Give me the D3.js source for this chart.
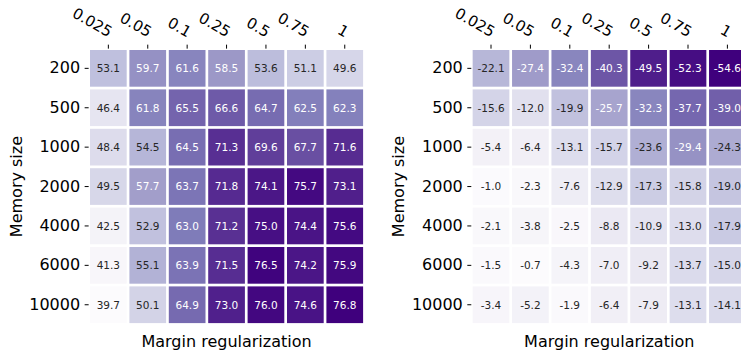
<!DOCTYPE html>
<html>
<head>
<meta charset="utf-8">
<script src="https://cdn.jsdelivr.net/npm/d3@7"></script>
<style>
  html, body { margin: 0; padding: 0; background: #fff; }
  svg { display: block; font-family: "DejaVu Sans", sans-serif; }
</style>
</head>
<body>
<svg id="chart" width="741" height="356"></svg>
<script>
// Column categories (margin regularization strength) and row categories (memory size)
const margins = ["0.025", "0.05", "0.1", "0.25", "0.5", "0.75", "1"];
const memorySizes = ["200", "500", "1000", "2000", "4000", "6000", "10000"];

// Left panel values, one row per memory size
const accuracy = [
  [53.1, 59.7, 61.6, 58.5, 53.6, 51.1, 49.6],
  [46.4, 61.8, 65.5, 66.6, 64.7, 62.5, 62.3],
  [48.4, 54.5, 64.5, 71.3, 69.6, 67.7, 71.6],
  [49.5, 57.7, 63.7, 71.8, 74.1, 75.7, 73.1],
  [42.5, 52.9, 63.0, 71.2, 75.0, 74.4, 75.6],
  [41.3, 55.1, 63.9, 71.5, 76.5, 74.2, 75.9],
  [39.7, 50.1, 64.9, 73.0, 76.0, 74.6, 76.8]
];

// Right panel values, one row per memory size
const change = [
  [-22.1, -27.4, -32.4, -40.3, -49.5, -52.3, -54.6],
  [-15.6, -12.0, -19.9, -25.7, -32.3, -37.7, -39.0],
  [-5.4, -6.4, -13.1, -15.7, -23.6, -29.4, -24.3],
  [-1.0, -2.3, -7.6, -12.9, -17.3, -15.8, -19.0],
  [-2.1, -3.8, -2.5, -8.8, -10.9, -13.0, -17.9],
  [-1.5, -0.7, -4.3, -7.0, -9.2, -13.7, -15.0],
  [-3.4, -5.2, -1.9, -6.4, -7.9, -13.1, -14.1]
];

const xLabel = "Margin regularization";
const yLabel = "Memory size";

// ColorBrewer "Purples" stops, linearly interpolated
const purples = ["#fcfbfd", "#efedf5", "#dadaeb", "#bcbddc", "#9e9ac8",
                 "#807dba", "#6a51a3", "#54278f", "#3f007d"];
const purpleRamp = d3.scaleLinear()
  .domain(d3.range(purples.length).map(i => i / (purples.length - 1)))
  .range(purples)
  .interpolate(d3.interpolateRgb)
  .clamp(true);

function luminance(color) {
  const c = d3.rgb(color);
  const lin = v => {
    v /= 255;
    return v <= 0.03928 ? v / 12.92 : Math.pow((v + 0.055) / 1.055, 2.4);
  };
  return 0.2126 * lin(c.r) + 0.7152 * lin(c.g) + 0.0722 * lin(c.b);
}

const svg = d3.select("#chart");
const cellGap = 2.7;
const side = 275.8;
const panelTop = 48.65;

function drawPanel(values, left, reversed) {
  const flat = values.flat();
  const lo = d3.min(flat), hi = d3.max(flat);
  const norm = d3.scaleLinear().domain(reversed ? [hi, lo] : [lo, hi]).range([0, 1]);

  const x = d3.scaleBand().domain(margins).range([left, left + side]);
  const y = d3.scaleBand().domain(memorySizes).range([panelTop, panelTop + side]);

  const g = svg.append("g");

  const cells = g.selectAll("g.cell")
    .data(values.flatMap((row, r) => row.map((v, c) => ({ v, r, c }))))
    .join("g")
    .attr("class", "cell");

  cells.append("rect")
    .attr("x", d => x(margins[d.c]) + cellGap / 2)
    .attr("y", d => y(memorySizes[d.r]) + cellGap / 2)
    .attr("width", x.bandwidth() - cellGap)
    .attr("height", y.bandwidth() - cellGap)
    .attr("fill", d => purpleRamp(norm(d.v)));

  cells.append("text")
    .attr("x", d => x(margins[d.c]) + x.bandwidth() / 2)
    .attr("y", d => y(memorySizes[d.r]) + y.bandwidth() / 2)
    .attr("dy", "0.36em")
    .attr("text-anchor", "middle")
    .attr("font-size", "10.5px")
    .attr("fill", d => luminance(purpleRamp(norm(d.v))) > 0.408 ? "#262626" : "#ffffff")
    .text(d => d.v.toFixed(1));

  // Column axis along the top
  const xAxis = g.append("g")
    .attr("transform", `translate(0,${panelTop})`)
    .call(d3.axisTop(x).tickSize(4).tickSizeOuter(0));
  xAxis.select(".domain").remove();
  xAxis.selectAll(".tick line").attr("stroke", "#000").attr("stroke-width", 1);
  xAxis.selectAll(".tick text")
    .attr("x", 0).attr("y", 0).attr("dy", 0)
    .attr("text-anchor", "end")
    .attr("transform", "translate(0,-11) rotate(30)")
    .attr("font-size", "15px")
    .attr("font-family", "DejaVu Sans, sans-serif")
    .attr("fill", "#000");

  // Row axis on the left
  const yAxis = g.append("g")
    .attr("transform", `translate(${left},0)`)
    .call(d3.axisLeft(y).tickSize(4).tickPadding(4.5).tickSizeOuter(0));
  yAxis.select(".domain").remove();
  yAxis.selectAll(".tick line").attr("stroke", "#000").attr("stroke-width", 1);
  yAxis.selectAll(".tick text")
    .attr("font-size", "16px")
    .attr("font-family", "DejaVu Sans, sans-serif")
    .attr("fill", "#000");

  g.append("text")
    .attr("x", left + side / 2)
    .attr("y", 346.7)
    .attr("text-anchor", "middle")
    .attr("font-size", "16px")
    .attr("fill", "#000")
    .text(xLabel);

  g.append("text")
    .attr("transform", `translate(${left - 67},${panelTop + side / 2}) rotate(-90)`)
    .attr("text-anchor", "middle")
    .attr("font-size", "16px")
    .attr("fill", "#000")
    .text(yLabel);
}

drawPanel(accuracy, 88.65, false);
drawPanel(change, 471.3, true);
</script>
</body>
</html>
